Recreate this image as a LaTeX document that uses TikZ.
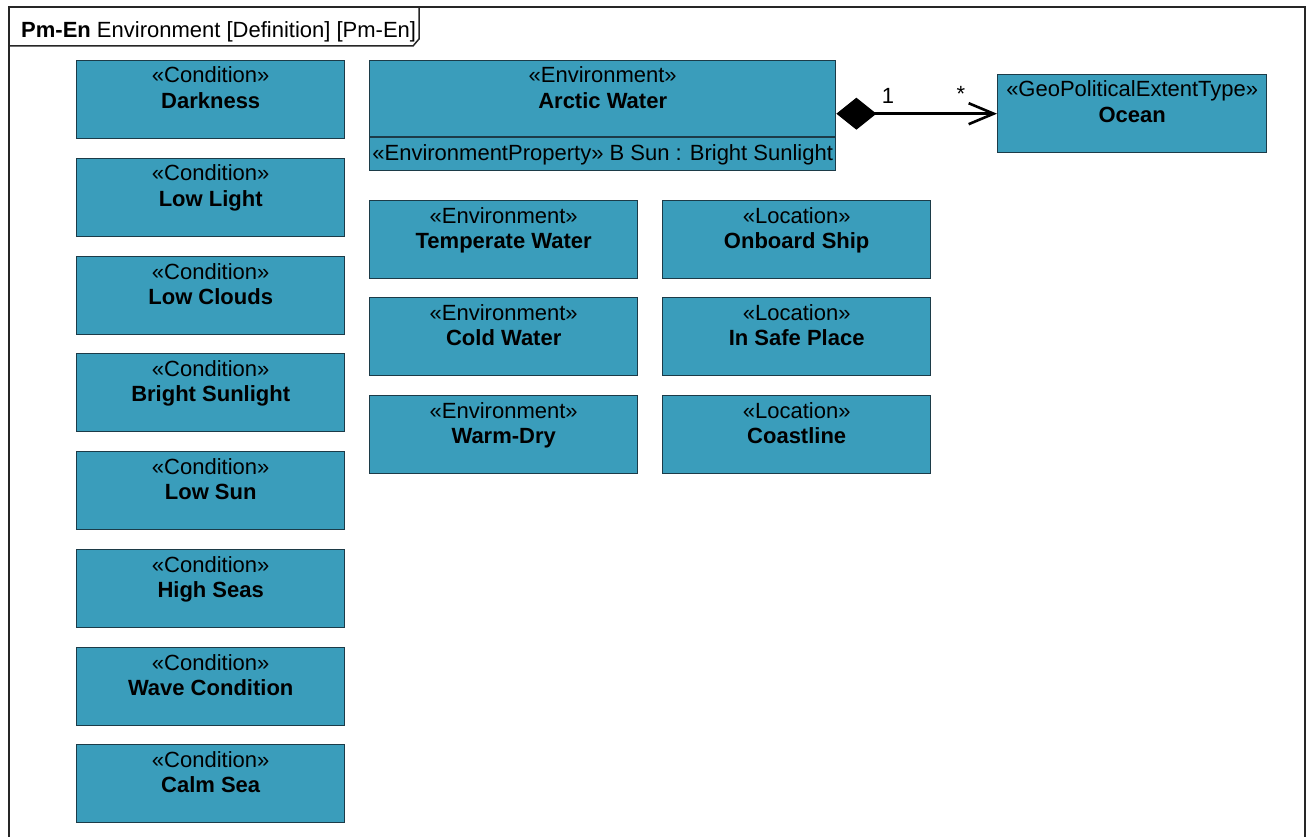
\documentclass[tikz,border=0pt]{standalone}
\usepackage{fontspec}
\setmainfont{Liberation Sans}
\usetikzlibrary{arrows.meta}

\definecolor{blockfill}{HTML}{3A9DBB}
\definecolor{blockline}{HTML}{1C3B48}

\tikzset{
  blockbox/.style={draw=blockline, line width=1.4pt, fill=blockfill,
    rectangle, inner sep=0pt, anchor=north west,
    minimum width=#1, minimum height=78pt},
  blockbox/.default=268pt,
  stereo/.style={anchor=base, inner sep=0pt, font=\fontsize{22}{26}\selectfont},
  bname/.style={anchor=base, inner sep=0pt, font=\fontsize{22}{26}\selectfont\bfseries},
  multi/.style={anchor=center, inner sep=0pt, font=\fontsize{22}{26}\selectfont},
  framepath/.style={draw=black!85, line width=1.5pt},
  assoc/.style={line width=2.6pt,
    {Diamond[length=40pt,width=32pt]}-{Straight Barb[length=25pt,width=21pt,line width=2.6pt]}}
}

% a block: name, x, y, width, stereotype, title
\newcommand{\umlblock}[6]{%
  \node[blockbox=#4] (#1) at (#2,#3) {};
  \node[stereo] (#1-st) at ([yshift=-23pt]#1.north) {«#5»};
  \node[bname] (#1-nm) at ([yshift=-48.5pt]#1.north) {#6};
}

\begin{document}
\begin{tikzpicture}[x=1pt,y=-1pt]
\useasboundingbox (0,0) rectangle (1308,837);
\fill[white] (0,0) rectangle (1308,837);

% diagram frame and its header tab
\draw[framepath] (9,840) -- (9,7) -- (1305,7) -- (1305,840);
\draw[framepath] (9,46) -- (413,46) -- (419,39) -- (419,7);
\node[anchor=base west, inner sep=0pt, font=\fontsize{22}{26}\selectfont]
  (title) at (21,37.5) {\textbf{Pm-En} Environment [Definition] [Pm-En]};

% conditions
\umlblock{darkness}{76}{60}{268pt}{Condition}{Darkness}
\umlblock{lowlight}{76}{158}{268pt}{Condition}{Low Light}
\umlblock{lowclouds}{76}{256}{268pt}{Condition}{Low Clouds}
\umlblock{bright}{76}{353}{268pt}{Condition}{Bright Sunlight}
\umlblock{lowsun}{76}{451}{268pt}{Condition}{Low Sun}
\umlblock{highseas}{76}{549}{268pt}{Condition}{High Seas}
\umlblock{wave}{76}{647}{268pt}{Condition}{Wave Condition}
\umlblock{calm}{76}{744}{268pt}{Condition}{Calm Sea}

% environments
\node[blockbox=466pt, minimum height=110pt] (arctic) at (369,60) {};
\node[stereo] (arctic-st) at ([yshift=-23pt]arctic.north) {«Environment»};
\node[bname] (arctic-nm) at ([yshift=-48.5pt]arctic.north) {Arctic Water};
\draw[blockline, line width=1.4pt] ([yshift=-77pt]arctic.north west) -- ([yshift=-77pt]arctic.north east);
\node[stereo] (arctic-prop) at ([yshift=-100.5pt]arctic.north) {«EnvironmentProperty» B Sun : Bright Sunlight};

\umlblock{temperate}{369}{200}{268pt}{Environment}{Temperate Water}
\umlblock{cold}{369}{297}{268pt}{Environment}{Cold Water}
\umlblock{warmdry}{369}{395}{268pt}{Environment}{Warm-Dry}

% locations
\umlblock{onboard}{662}{200}{268pt}{Location}{Onboard Ship}
\umlblock{safe}{662}{297}{268pt}{Location}{In Safe Place}
\umlblock{coast}{662}{395}{268pt}{Location}{Coastline}

% extent
\umlblock{ocean}{997}{74}{269pt}{GeoPoliticalExtentType}{Ocean}

% composition
\draw[assoc] (arctic.east |- ocean.west) -- (ocean.west);
\node[multi] (m1) at (888,96) {1};
\node[multi] (m2) at (961,94) {*};
\end{tikzpicture}
\end{document}
